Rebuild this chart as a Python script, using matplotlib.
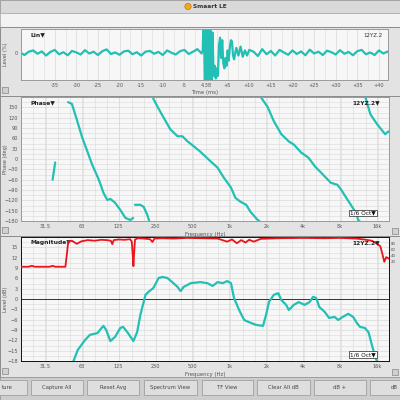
import numpy as np
import matplotlib
matplotlib.use("Agg")
import matplotlib.pyplot as plt
from matplotlib.patches import Rectangle, Circle
from matplotlib.ticker import FixedLocator, NullFormatter

# ---------------- data ----------------
lin_t_pre = list(range(-43, 0))
lin_v_pre = [0.02, -0.08, 0.05, 0.10, -0.03, 0.06, -0.10, 0.04, 0.12, -0.05,
             0.03, -0.09, 0.08, 0.02, -0.06, 0.11, -0.02, 0.05, -0.08, 0.07,
             0.14, -0.04, 0.02, -0.07, 0.06, 0.09, -0.05, 0.03, -0.10, 0.05,
             0.08, -0.03, 0.04, -0.08, 0.10, 0.01, -0.06, 0.07, 0.12, -0.04,
             0.05, 0.15, -0.02]
lin_t_imp = [-0.75, -0.5, -0.25, 0, 0.25, 0.5, 0.75, 1.0, 1.25, 1.5,
             1.75, 2.0, 2.25, 2.5, 2.75, 3.0, 3.25, 3.5, 3.75, 4.0,
             4.25, 4.5, 4.75, 5.0, 5.25, 5.5, 5.75, 6.0, 6.25, 6.5,
             7.0, 7.5, 8.0, 8.5, 9.0, 9.5, 10.0]
lin_v_imp = [0.1, 2.0, -2.0, 2.0, -2.0, 1.5, -2.0, 1.2, -1.5, 0.8,
             -0.9, -0.5, -1.0, -0.6, -0.9, 0.3, 0.6, -0.2, 0.5, -0.4,
             -0.6, -0.2, -0.5, 0.1, -0.3, 0.2, 0.5, 0.45, -0.1, -0.25,
             0.2, -0.1, 0.25, -0.15, 0.1, -0.1, 0.12]
lin_t_post = list(range(11, 43))
lin_v_post = [0.05, -0.12, 0.15, -0.05, 0.08, -0.10, 0.12, 0.02, -0.07, 0.10,
              -0.04, 0.06, -0.09, 0.13, -0.02, 0.05, -0.08, 0.09, 0.03, -0.06,
              0.11, -0.03, 0.04, -0.09, 0.07, 0.12, -0.05, 0.02, -0.08, 0.10,
              -0.02, 0.05]
time_ticks = [-35, -30, -25, -20, -15, -10, -5, 0, 5, 10, 15, 20, 25, 30, 35, 40]
time_labels = ["-35", "-30", "-25", "-20", "-15", "-10", "-5", "4.38",
               "+5", "+10", "+15", "+20", "+25", "+30", "+35", "+40"]

phase_f = [[36.2, 38],
           [48.4, 52, 57.5, 63, 69.5, 76, 84, 88, 94, 101, 107, 117, 129, 142, 156, 164],
           [170, 188, 200, 214, 222],
           [236, 260, 290, 330, 378, 414, 456, 512, 580, 703, 800, 900, 1030, 1120,
            1230, 1370, 1490, 1700, 1750],
           [1800, 2050, 2300, 2650, 3050, 3350, 3840, 4400, 5000, 5780, 6700, 7600,
            8140, 9400, 10800, 11200, 11500],
           [12700, 14100, 16000, 18600, 19800]]
phase_deg = [[-60, -10],
             [165, 160, 110, 63, 22, -16, -51, -69, -98, -119, -116, -127, -148, -171, -177, -171],
             [-133, -133, -139, -162, -180],
             [180, 151, 121, 86, 66, 66, 51, 37, 21, -7, -25, -54, -83, -113,
              -124, -133, -154, -177, -180],
             [180, 151, 110, 72, 51, 42, 19, 4, -22, -45, -69, -75,
              -89, -124, -157, -177, -180],
             [185, 130, 101, 72, 80]]

mag_f = [53.6, 58, 66.6, 73, 84, 88, 94, 99, 107, 117,
         129, 136, 147, 165, 177, 188, 207, 218, 240, 265,
         285, 312, 342, 378, 400, 423, 485, 580, 660, 730,
         800, 880, 960, 1030, 1090, 1200, 1320, 1440, 1640, 1880,
         1990, 2100, 2300, 2500, 2650, 2900, 3050, 3350, 3670, 4100,
         4500, 4800, 5100, 5400, 6000, 6500, 7200, 7700, 8400, 9300,
         10200, 10900, 11600, 12700, 13600, 14500, 15500, 16000]
mag_db = [-18, -14.8, -11.9, -10.4, -9.9, -9, -7.8, -9, -12.2, -11,
          -8.4, -8.1, -9.6, -12.2, -9.6, -4.6, 1.2, 2, 3.2, 6.1,
          6.4, 6.1, 4.9, 3.5, 2.3, 3.5, 4.6, 4.9, 4.6, 3.8,
          4.9, 4.6, 5.2, 4.6, 0.3, -3.2, -6.1, -6.7, -7.5, -7.8,
          -4.6, -0.9, 1.2, 1.7, -0.3, -1.7, -3.2, -1.7, -0.9, -1.7,
          -0.9, 0.6, 0.3, -2.3, -3.8, -5.5, -5.2, -6.1, -5.2, -4.3,
          -5.2, -6.9, -8.1, -8.4, -9.6, -13.3, -17.1, -18]

coh_f = [20, 23, 24.5, 26, 30, 34, 36.3, 38, 42, 46,
         47.5, 48.5, 52, 57, 62, 70, 80, 90, 100, 108,
         111, 114, 125, 140, 155, 160, 163, 165, 167, 170,
         180, 200, 225, 236, 245, 280, 350, 450, 600, 800,
         960, 1050, 1150, 1250, 1350, 1450, 1580, 1800, 2500, 4000,
         6000, 8000, 10800, 12500, 14500, 16000, 17000, 17800, 18300, 19000,
         20000]
coh_v = [4, 4, 7, 4, 4, 4, 7, 4, 4, 4,
         50, 85, 88, 78, 86, 90, 88, 91, 90, 88,
         77, 90, 92, 91, 93, 85, 40, 6, 45, 92,
         96, 95, 93, 84, 95, 96, 95, 97, 96, 95,
         85, 92, 80, 90, 82, 91, 85, 94, 96, 97,
         96, 97, 95, 92, 88, 78, 70, 40, 20, 35,
         30]

freq_ticks = [31.5, 63, 125, 250, 500, 1000, 2000, 4000, 8000, 16000]
freq_labels = ["31.5", "63", "125", "250", "500", "1k", "2k", "4k", "8k", "16k"]
phase_ticks = [150, 120, 90, 60, 30, 0, -30, -60, -90, -120, -150, -180]
mag_ticks = [15, 12, 9, 6, 3, 0, -3, -6, -9, -12, -15, -18]
coh_ticks = [20, 40, 60, 80]
button_labels = ["ture", "Capture All", "Reset Avg", "Spectrum View",
                 "TF View", "Clear All dB", "dB +", "dB"]

# ---------------- style ----------------
TEAL = "#22c0b4"
RED = "#e8161c"
PLOTBG = "#f7f7f7"
GRID = "#dadada"
PANEL = "#e3e3e3"
TXT = "#555555"
FS = 3.6

W = H = 400.0
fig = plt.figure(figsize=(4, 4), dpi=100)
fig.patch.set_facecolor(PANEL)


def rect(x0, y0, x1, y1, fc, ec="none", lw=0.6, z=0):
    fig.add_artist(Rectangle((x0 / W, 1 - y1 / H), (x1 - x0) / W, (y1 - y0) / H,
                             transform=fig.transFigure, fc=fc, ec=ec, lw=lw, zorder=z))


def txt(x, y, s, **kw):
    fig.text(x / W, 1 - y / H, s, **kw)


def axrect(x0, y0, x1, y1):
    return [x0 / W, 1 - y1 / H, (x1 - x0) / W, (y1 - y0) / H]


# window chrome
rect(0, 0, 400, 13, "#d9d9d9", ec="#9a9a9a", lw=0.6)
rect(0, 13, 400, 27, "#f3f3f3", ec="#b0b0b0", lw=0.6)
rect(0, 27, 400, 96, PANEL, ec="#8c8c8c", lw=0.7)
rect(0, 96, 400, 236, PANEL, ec="#8c8c8c", lw=0.7)
rect(0, 236, 400, 377, PANEL, ec="#8c8c8c", lw=0.7)
rect(0, 377, 400, 400, "#cdcdcd", ec="#9a9a9a", lw=0.6)
fig.add_artist(Circle((188 / W, 1 - 6.5 / H), 3.2 / W, transform=fig.transFigure,
                      fc="#f2a81c", ec="#b07010", lw=0.4))
txt(193, 6.5, "Smaart LE", fontsize=4.2, fontweight="bold", color="#333333",
    ha="left", va="center")

# small icons
for (ix, iy) in [(2, 90), (2, 230), (2, 371), (392, 231), (392, 372)]:
    rect(ix, iy - 3, ix + 6, iy + 3, "#d0d0d0", ec="#707070", lw=0.4, z=5)

# buttons
button_x = [(-30, 27), (31, 83), (87, 139), (144, 197), (202, 253), (257, 310),
            (314, 366), (370, 430)]
for (bx0, bx1), lab in zip(button_x, button_labels):
    rect(bx0, 380, bx1, 395, "#dedede", ec="#a0a0a0", lw=0.6, z=2)
    if lab == "ture":
        txt(2, 387.5, lab, fontsize=3.8, color="#444444", ha="left", va="center", zorder=3)
    elif lab == "dB":
        txt(391, 387.5, lab, fontsize=3.8, color="#444444", ha="left", va="center", zorder=3)
    else:
        txt((bx0 + bx1) / 2, 387.5, lab, fontsize=3.8, color="#444444",
            ha="center", va="center", zorder=3)


def style_axes(ax, edge="#9a9a9a"):
    ax.set_facecolor(PLOTBG)
    for s in ax.spines.values():
        s.set_color(edge)
        s.set_linewidth(0.7)
    ax.tick_params(which="both", length=0, labelsize=FS, labelcolor=TXT, pad=2)
    ax.grid(True, which="major", color=GRID, lw=0.5)
    ax.grid(True, which="minor", color=GRID, lw=0.4)
    ax.set_axisbelow(True)


# ---------------- top: impulse (Lin) ----------------
ax1 = fig.add_axes(axrect(21, 29, 388, 80))
style_axes(ax1)
lin_t = lin_t_pre + lin_t_imp + lin_t_post
lin_v = lin_v_pre + lin_v_imp + lin_v_post
ax1.plot(lin_t, lin_v, color=TEAL, lw=1.6, solid_joinstyle="round")
ax1.set_xlim(-42.8, 42.1)
ax1.set_ylim(-1.06, 0.94)
ax1.set_xticks(time_ticks)
ax1.set_xticklabels(time_labels)
ax1.xaxis.set_minor_locator(FixedLocator([t + 2.5 for t in time_ticks] + [-37.5, -40]))
ax1.set_yticks([0])
ax1.grid(False, axis="y", which="both")
ax1.set_ylabel("Level (%)", fontsize=FS, color=TXT)
ax1.yaxis.set_label_coords(-0.036, 0.5)
ax1.set_xlabel("Time (ms)", fontsize=FS + 0.3, color=TXT, labelpad=1.5)
ax1.text(0.025, 0.93, "Lin\u25BC", transform=ax1.transAxes, fontsize=4.3,
         fontweight="bold", color="#222222", va="top", ha="left")
ax1.text(0.985, 0.93, "12YZ.2", transform=ax1.transAxes, fontsize=4.0,
         color="#333333", va="top", ha="right")

# minor log grid: 1/3 octave lines
third_oct = [20 * 2 ** (k / 3.0) for k in range(0, 31)]


def freq_axes(ax):
    ax.set_xscale("log")
    ax.set_xlim(20, 20000)
    ax.xaxis.set_major_locator(FixedLocator(freq_ticks))
    ax.set_xticklabels(freq_labels)
    ax.xaxis.set_minor_locator(FixedLocator(third_oct))
    ax.xaxis.set_minor_formatter(NullFormatter())


# ---------------- middle: phase ----------------
ax2 = fig.add_axes(axrect(21, 97, 389, 221))
style_axes(ax2)
freq_axes(ax2)
for fs_, ds_ in zip(phase_f, phase_deg):
    ax2.plot(fs_, ds_, color=TEAL, lw=1.6, solid_capstyle="round")
ax2.set_ylim(-180, 180)
ax2.set_yticks(phase_ticks)
ax2.yaxis.set_minor_locator(FixedLocator([t + 15 for t in phase_ticks]))
ax2.set_ylabel("Phase (deg)", fontsize=FS, color=TXT)
ax2.yaxis.set_label_coords(-0.036, 0.5)
ax2.set_xlabel("Frequency (Hz)", fontsize=FS + 0.3, color=TXT, labelpad=2)
ax2.text(0.025, 0.975, "Phase\u25BC", transform=ax2.transAxes, fontsize=4.3,
         fontweight="bold", color="#222222", va="top", ha="left")
ax2.text(0.975, 0.975, "12YZ.2\u25BC", transform=ax2.transAxes, fontsize=4.2,
         fontweight="bold", color="#222222", va="top", ha="right")
ax2.text(0.965, 0.045, "1/6 Oct\u25BC", transform=ax2.transAxes, fontsize=4.2,
         color="#111111", va="bottom", ha="right",
         bbox=dict(boxstyle="square,pad=0.15", fc="white", ec="#222222", lw=0.5))

# ---------------- bottom: magnitude + coherence ----------------
ax3 = fig.add_axes(axrect(21, 237, 389, 361))
style_axes(ax3, edge="#111111")
freq_axes(ax3)
ax3.axhline(0, color="#333333", lw=0.7, zorder=1)
ax3.plot(mag_f, mag_db, color=TEAL, lw=1.6, zorder=3)
ax3.set_ylim(-18, 18)
ax3.set_yticks(mag_ticks)
ax3.yaxis.set_minor_locator(FixedLocator([t + 1.5 for t in mag_ticks]))
ax3.set_ylabel("Level (dB)", fontsize=FS, color=TXT)
ax3.yaxis.set_label_coords(-0.036, 0.5)
ax3.set_xlabel("Frequency (Hz)", fontsize=FS + 0.3, color=TXT, labelpad=2)

ax3b = ax3.twinx()
ax3b.set_ylim(-300, 100)
ax3b.set_xlim(20, 20000)
ax3b.plot(coh_f, coh_v, color=RED, lw=1.3, zorder=4)
ax3b.set_yticks(coh_ticks)
ax3b.tick_params(length=0, labelsize=2.8, labelcolor=TXT, pad=1.2)
for s in ax3b.spines.values():
    s.set_visible(False)

ax3.text(0.025, 0.975, "Magnitude\u25BC", transform=ax3.transAxes, fontsize=4.3,
         fontweight="bold", color="#222222", va="top", ha="left", zorder=6)
ax3b.text(0.975, 0.975, "12YZ.2\u25BC", transform=ax3.transAxes, fontsize=4.2,
          fontweight="bold", color="#222222", va="top", ha="right", zorder=6)
ax3b.text(0.965, 0.03, "1/6 Oct\u25BC", transform=ax3.transAxes, fontsize=4.2,
          color="#111111", va="bottom", ha="right", zorder=6,
          bbox=dict(boxstyle="square,pad=0.15", fc="white", ec="#222222", lw=0.5))

fig.savefig("out.png", dpi=100, facecolor=fig.get_facecolor())
